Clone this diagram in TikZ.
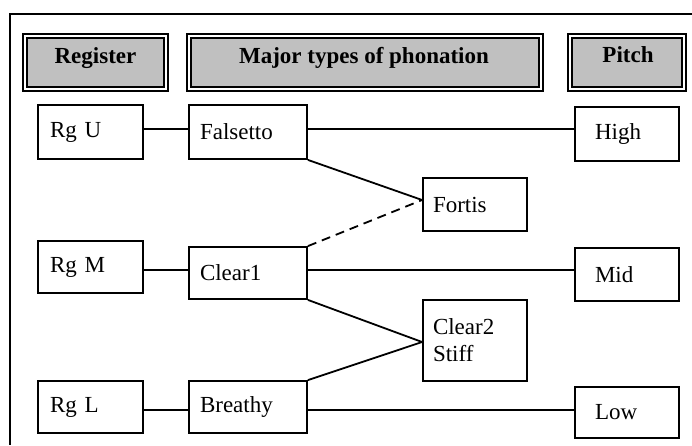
\documentclass[tikz,border=0pt]{standalone}
\usepackage{fontspec}
\setmainfont{Liberation Serif}
\begin{document}
\begin{tikzpicture}[x=1pt,y=-1pt,
  hdr/.style={draw=black, line width=2.2pt, double=white, double distance=1.8pt, fill=hdrgray, inner sep=0pt},
  hdrtext/.style={anchor=base, font=\fontsize{23}{27}\selectfont\bfseries, inner sep=0pt},
  bx/.style={draw=black, line width=1.8pt, inner ysep=0pt, align=left, font=\fontsize{23}{27}\selectfont},
  link/.style={line width=1.8pt},
  dlink/.style={line width=1.8pt, dash pattern=on 9pt off 6pt}]
\definecolor{hdrgray}{HTML}{C0C0C0}
\useasboundingbox (0,0) rectangle (692,445);
% frame
\draw[line width=2pt] (692,14) -- (10,14) -- (10,445);
% headers
\node[hdr, minimum width=141pt, minimum height=53pt] (hreg) at (95.5,62.5) {};
\node[hdr, minimum width=352pt, minimum height=53pt] (hmaj) at (365,62.5) {};
\node[hdr, minimum width=114pt, minimum height=53pt] (hpit) at (627,62.5) {};
\node[hdrtext] (treg) at (95.5,63) {Register};
\node[hdrtext] (tmaj) at (364,63) {Major types of phonation};
\node[hdrtext] (tpit) at (628,62) {Pitch};
% boxes
\node[bx, minimum width=105pt, minimum height=54pt, inner xsep=12pt, text width=81pt] (rgu) at (90.5,132) {Rg U};
\node[bx, minimum width=118pt, minimum height=54pt, inner xsep=11pt, text width=96pt] (fals) at (248,132) {Falsetto};
\node[bx, minimum width=104pt, minimum height=54pt, inner xsep=20pt, text width=64pt] (high) at (627,134) {High};
\node[bx, minimum width=104pt, minimum height=53pt, inner xsep=10pt, text width=84pt] (fort) at (475,204.5) {Fortis};
\node[bx, minimum width=105pt, minimum height=52pt, inner xsep=12pt, text width=81pt] (rgm) at (90.5,267) {Rg M};
\node[bx, minimum width=118pt, minimum height=52pt, inner xsep=11pt, text width=96pt] (clr1) at (248,273) {Clear1};
\node[bx, minimum width=104pt, minimum height=53pt, inner xsep=20pt, text width=64pt] (mid) at (627,274.5) {Mid};
\node[bx, minimum width=104pt, minimum height=81pt, inner xsep=10pt, text width=84pt] (clr2) at (475,340.5) {Clear2\\Stiff};
\node[bx, minimum width=105pt, minimum height=52pt, inner xsep=12pt, text width=81pt] (rgl) at (90.5,407) {Rg L};
\node[bx, minimum width=118pt, minimum height=52pt, inner xsep=11pt, text width=96pt] (bre) at (248,407) {Breathy};
\node[bx, minimum width=104pt, minimum height=51pt, inner xsep=20pt, text width=64pt] (low) at (627,412.5) {Low};
% levels
\coordinate (ya) at (0,129);
\coordinate (yb) at (0,270);
\coordinate (yc) at (0,410);
\coordinate (yf) at (0,200);
\coordinate (ys) at (0,342);
% connectors
\draw[link] (rgu.east |- ya) -- (fals.west |- ya);
\draw[link] (fals.east |- ya) -- (high.west |- ya);
\draw[link] (rgm.east |- yb) -- (clr1.west |- yb);
\draw[link] (clr1.east |- yb) -- (mid.west |- yb);
\draw[link] (rgl.east |- yc) -- (bre.west |- yc);
\draw[link] (bre.east |- yc) -- (low.west |- yc);
\draw[link] (fals.south east) -- (fort.west |- yf);
\draw[dlink] (clr1.north east) -- (fort.west |- yf);
\draw[link] (clr1.south east) -- (clr2.west |- ys);
\draw[link] (bre.north east) -- (clr2.west |- ys);
\end{tikzpicture}
\end{document}
